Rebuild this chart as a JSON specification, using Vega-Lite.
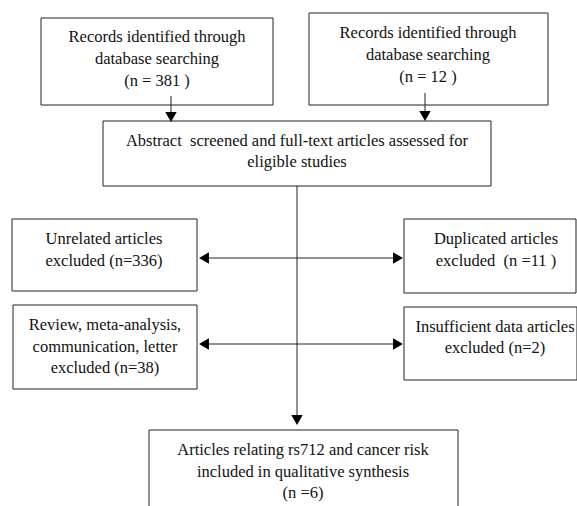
{
  "$schema": "https://vega.github.io/schema/vega-lite/v6.json",
  "width": 577,
  "height": 506,
  "autosize": {"type": "none"},
  "padding": 0,
  "background": "white",
  "config": {"view": {"stroke": null}},
  "datasets": {
    "boxes": [
      {"id": "b1", "x1": 41, "x2": 273, "y1": 18, "y2": 105},
      {"id": "b2", "x1": 309, "x2": 548, "y1": 13, "y2": 105},
      {"id": "b3", "x1": 103, "x2": 491, "y1": 121, "y2": 186},
      {"id": "b4", "x1": 12, "x2": 197, "y1": 219, "y2": 291},
      {"id": "b5", "x1": 13, "x2": 197, "y1": 305, "y2": 389},
      {"id": "b6", "x1": 404, "x2": 576, "y1": 219, "y2": 293},
      {"id": "b7", "x1": 404, "x2": 577, "y1": 307, "y2": 380},
      {"id": "b8", "x1": 149, "x2": 458, "y1": 430, "y2": 510}
    ],
    "texts": [
      {"x": 157, "y": 37, "t": "Records identified through"},
      {"x": 157, "y": 59, "t": "database searching"},
      {"x": 157, "y": 81, "t": "(n = 381 )"},
      {"x": 428, "y": 33, "t": "Records identified through"},
      {"x": 428, "y": 55, "t": "database searching"},
      {"x": 428, "y": 77, "t": "(n = 12 )"},
      {"x": 297, "y": 141, "t": "Abstract\u00a0 screened and full-text articles assessed for"},
      {"x": 297, "y": 162, "t": "eligible studies"},
      {"x": 104, "y": 239, "t": "Unrelated articles"},
      {"x": 104, "y": 261, "t": "excluded (n=336)"},
      {"x": 105, "y": 325, "t": "Review, meta-analysis,"},
      {"x": 105, "y": 347, "t": "communication, letter"},
      {"x": 105, "y": 368, "t": "excluded (n=38)"},
      {"x": 496, "y": 239, "t": "Duplicated articles"},
      {"x": 496, "y": 261, "t": "excluded\u00a0 (n =11 )"},
      {"x": 495, "y": 327, "t": "Insufficient data articles"},
      {"x": 495, "y": 348, "t": "excluded (n=2)"},
      {"x": 303, "y": 450, "t": "Articles relating rs712 and cancer risk"},
      {"x": 303, "y": 472, "t": "included in qualitative synthesis"},
      {"x": 303, "y": 493, "t": "(n =6)"}
    ],
    "lines": [
      {"x1": 171, "x2": 171, "y1": 96, "y2": 114},
      {"x1": 425, "x2": 425, "y1": 93, "y2": 113},
      {"x1": 297, "x2": 297, "y1": 186, "y2": 417},
      {"x1": 207, "x2": 395, "y1": 258, "y2": 258},
      {"x1": 207, "x2": 395, "y1": 344, "y2": 344}
    ],
    "arrows": [
      {"x": 171, "y": 117, "dir": "down"},
      {"x": 425, "y": 116, "dir": "down"},
      {"x": 297, "y": 420, "dir": "down"},
      {"x": 204, "y": 258, "dir": "left"},
      {"x": 204, "y": 344, "dir": "left"},
      {"x": 398, "y": 258, "dir": "right"},
      {"x": 398, "y": 344, "dir": "right"}
    ]
  },
  "layer": [
    {
      "data": {"name": "boxes"},
      "mark": {"type": "rect", "fill": "white", "stroke": "#222222", "strokeWidth": 1},
      "encoding": {
        "x": {"field": "x1", "type": "quantitative", "scale": {"domain": [0, 577], "nice": false, "zero": false}, "axis": null},
        "x2": {"field": "x2"},
        "y": {"field": "y1", "type": "quantitative", "scale": {"domain": [0, 506], "nice": false, "zero": false, "reverse": true}, "axis": null},
        "y2": {"field": "y2"}
      }
    },
    {
      "data": {"name": "lines"},
      "mark": {"type": "rule", "stroke": "#222222", "strokeWidth": 1},
      "encoding": {
        "x": {"field": "x1", "type": "quantitative", "axis": null},
        "x2": {"field": "x2"},
        "y": {"field": "y1", "type": "quantitative", "axis": null},
        "y2": {"field": "y2"}
      }
    },
    {
      "data": {"name": "arrows"},
      "mark": {"type": "point", "filled": true, "color": "#000000", "size": 130, "opacity": 1},
      "encoding": {
        "x": {"field": "x", "type": "quantitative", "axis": null},
        "y": {"field": "y", "type": "quantitative", "axis": null},
        "shape": {"field": "dir", "type": "nominal", "scale": {"domain": ["down", "left", "right"], "range": ["triangle-down", "triangle-left", "triangle-right"]}, "legend": null}
      }
    },
    {
      "data": {"name": "texts"},
      "mark": {"type": "text", "font": "Liberation Serif", "fontSize": 16.5, "color": "#111111", "align": "center", "baseline": "middle"},
      "encoding": {
        "x": {"field": "x", "type": "quantitative", "axis": null},
        "y": {"field": "y", "type": "quantitative", "axis": null},
        "text": {"field": "t", "type": "nominal"}
      }
    }
  ]
}
